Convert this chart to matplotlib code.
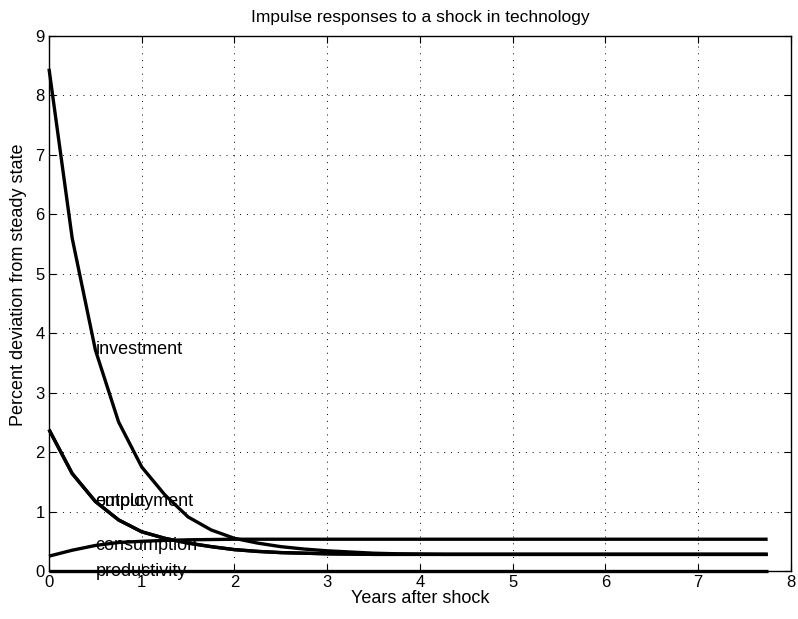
import numpy as np
import matplotlib
matplotlib.use("Agg")
import matplotlib.pyplot as plt

plt.rcParams['font.family'] = ['Liberation Sans', 'DejaVu Sans']

years = [i * 0.25 for i in range(32)]

investment = [8.45, 5.60, 3.72, 2.51, 1.75, 1.28, 0.91, 0.69, 0.55, 0.47, 0.41, 0.37,
              0.34, 0.32, 0.30, 0.29, 0.285, 0.28, 0.28, 0.28, 0.28, 0.28, 0.28, 0.28,
              0.28, 0.28, 0.28, 0.28, 0.28, 0.28, 0.28, 0.28]
output = [2.38, 1.64, 1.17, 0.86, 0.66, 0.55, 0.47, 0.41, 0.36, 0.33, 0.31, 0.30,
          0.29, 0.285, 0.28, 0.28, 0.28, 0.28, 0.28, 0.28, 0.28, 0.28, 0.28, 0.28,
          0.28, 0.28, 0.28, 0.28, 0.28, 0.28, 0.28, 0.28]
employment = [2.38, 1.64, 1.17, 0.86, 0.66, 0.55, 0.47, 0.41, 0.36, 0.33, 0.31, 0.30,
              0.29, 0.285, 0.28, 0.28, 0.28, 0.28, 0.28, 0.28, 0.28, 0.28, 0.28, 0.28,
              0.28, 0.28, 0.28, 0.28, 0.28, 0.28, 0.28, 0.28]
consumption = [0.25, 0.35, 0.43, 0.48, 0.50, 0.515, 0.525, 0.53, 0.535, 0.535, 0.535, 0.535,
               0.535, 0.535, 0.535, 0.535, 0.535, 0.535, 0.535, 0.535, 0.535, 0.535, 0.535, 0.535,
               0.535, 0.535, 0.535, 0.535, 0.535, 0.535, 0.535, 0.535]
productivity = [0.0] * 32

series = [("investment", investment), ("output", output), ("employment", employment),
          ("consumption", consumption), ("productivity", productivity)]

fig = plt.figure(figsize=(7.98, 6.19), dpi=100)
ax = fig.add_axes([0.0614, 0.0775, 0.9296, 0.8643])

for name, vals in series:
    ax.plot(years, vals, color='black', linewidth=2.4, solid_capstyle='butt', clip_on=False, zorder=3)
    ax.text(years[2], vals[2], name, ha='left', va='center', fontsize=13, zorder=4)

ax.set_xlim(0, 8)
ax.set_ylim(0, 9)
ax.set_xticks(range(0, 9))
ax.set_yticks(range(0, 10))
ax.grid(True, linestyle=(0, (1, 6)), color='black', linewidth=0.7)
ax.tick_params(direction='in', top=True, right=True, length=5, width=0.8, labelsize=12, pad=3)
for s in ax.spines.values():
    s.set_linewidth(1.0)
ax.set_title("Impulse responses to a shock in technology", fontsize=12.5, pad=10)
ax.set_xlabel("Years after shock", fontsize=13, labelpad=0)
ax.set_ylabel("Percent deviation from steady state", fontsize=13, labelpad=4)
ax.yaxis.set_label_coords(-0.0296, 0.535)

fig.savefig("out.png", dpi=100)
